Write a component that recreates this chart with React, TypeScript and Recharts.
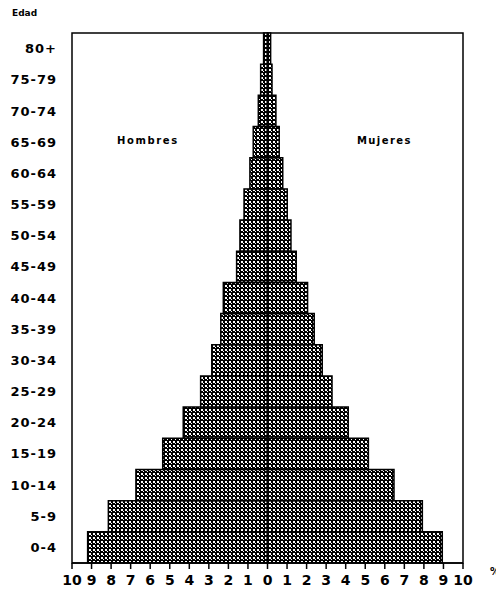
import React from "react";
import { BarChart, Bar, XAxis, YAxis, ReferenceArea, ReferenceLine } from "recharts";

const ages = ["0-4", "5-9", "10-14", "15-19", "20-24", "25-29", "30-34", "35-39", "40-44", "45-49", "50-54", "55-59", "60-64", "65-69", "70-74", "75-79", "80+"];
const hombres = [9.2, 8.14, 6.73, 5.36, 4.31, 3.42, 2.85, 2.39, 2.26, 1.58, 1.41, 1.2, 0.9, 0.73, 0.47, 0.35, 0.2];
const mujeres = [8.94, 7.92, 6.47, 5.16, 4.13, 3.3, 2.8, 2.39, 2.05, 1.47, 1.2, 1.01, 0.78, 0.6, 0.43, 0.23, 0.16];
const xTicks = [-10, -9, -8, -7, -6, -5, -4, -3, -2, -1, 0, 1, 2, 3, 4, 5, 6, 7, 8, 9, 10];

const data = ages.map((age, i) => ({ age, hombres: -hombres[i], mujeres: mujeres[i] }));

const FONT = "'DejaVu Sans', Arial, sans-serif";

const labelStyle: React.CSSProperties = {
  position: "absolute",
  fontFamily: FONT,
  fontWeight: 700,
  color: "#000",
  whiteSpace: "nowrap",
};

export default function App() {
  return (
    <div style={{ position: "relative", width: 496, height: 588 }}>
      <BarChart
        width={496}
        height={588}
        data={data}
        layout="vertical"
        stackOffset="sign"
        barCategoryGap={0}
        margin={{ top: 25, right: 41, bottom: 0, left: 0 }}
      >
        <defs>
          <pattern id="hatch" patternUnits="userSpaceOnUse" width="4" height="4">
            <rect x="0" y="0" width="4" height="4" fill="#000" />
            <rect x="1" y="1" width="2" height="2" fill="#fff" />
            <rect x="3" y="3" width="1" height="1" fill="#fff" />
          </pattern>
        </defs>
        <XAxis
          type="number"
          domain={[-10, 10]}
          ticks={xTicks}
          interval={0}
          tickFormatter={(v: number) => String(Math.abs(v))}
          axisLine={{ stroke: "#000", strokeWidth: 1.5 }}
          tickLine={{ stroke: "#000", strokeWidth: 1.5 }}
          tickSize={6}
          tickMargin={6}
          height={33}
          tick={{ fill: "#000", fontSize: 14, fontWeight: 700, fontFamily: FONT }}
        />
        <YAxis
          type="category"
          dataKey="age"
          reversed
          width={64}
          axisLine={false}
          tickLine={false}
          tickSize={8}
          tickMargin={7}
          interval={0}
          tick={{ fill: "#000", fontSize: 13, fontWeight: 700, fontFamily: FONT, letterSpacing: 1 }}
        />
        <Bar dataKey="hombres" stackId="a" fill="url(#hatch)" stroke="#000" strokeWidth={1.5} isAnimationActive={false} />
        <Bar dataKey="mujeres" stackId="a" fill="url(#hatch)" stroke="#000" strokeWidth={1.5} isAnimationActive={false} />
        <ReferenceLine x={0} stroke="#000" strokeWidth={1.5} />
        <ReferenceArea x1={-10} x2={10} fill="none" fillOpacity={0} stroke="#000" strokeWidth={1.5} />
      </BarChart>
      <div style={{ ...labelStyle, left: 4, top: 0, fontSize: 9 }}>Edad</div>
      <div style={{ ...labelStyle, left: 109, top: 127, fontSize: 10, letterSpacing: 1.6 }}>Hombres</div>
      <div style={{ ...labelStyle, left: 349, top: 127, fontSize: 10, letterSpacing: 1.4 }}>Mujeres</div>
      <div style={{ ...labelStyle, left: 482, top: 558, fontSize: 10 }}>%</div>
    </div>
  );
}
